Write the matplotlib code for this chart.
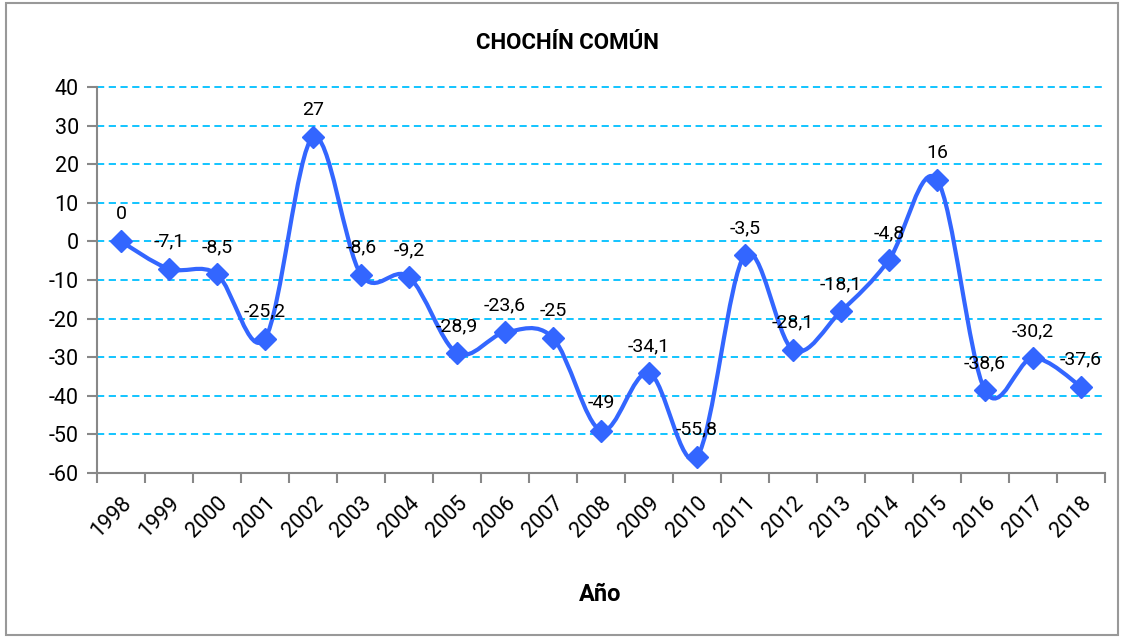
import matplotlib
matplotlib.use("Agg")
from matplotlib import pyplot as plt
from matplotlib.path import Path
from matplotlib.patches import PathPatch, Rectangle

years = [str(y) for y in range(1998, 2019)]
values = [0, -7.1, -8.5, -25.2, 27, -8.6, -9.2, -28.9, -23.6, -25, -49,
          -34.1, -55.8, -3.5, -28.1, -18.1, -4.8, 16, -38.6, -30.2, -37.6]
yticks = [-60, -50, -40, -30, -20, -10, 0, 10, 20, 30, 40]

LINE = "#3366ff"
GRID = "#00bfff"
AXC = "#888888"

plt.rcParams['font.family'] = ['Roboto', 'DejaVu Sans']

fig = plt.figure(figsize=(11.26, 6.39), dpi=100)
fig.patches.append(Rectangle((0.005, 0.006), 0.988, 0.99, transform=fig.transFigure,
                             fill=False, edgecolor="#999999", linewidth=1.5))
ax = fig.add_axes([0.0861, 0.2598, 0.8952, 0.604])

x = list(range(len(values)))

# excel-style smoothed line: cubic bezier with catmull-rom control points
def smooth_path(xs, ys):
    pts = list(zip(xs, ys))
    n = len(pts)
    verts = [pts[0]]
    codes = [Path.MOVETO]
    for i in range(n - 1):
        p0 = pts[i - 1] if i > 0 else pts[i]
        p1 = pts[i]
        p2 = pts[i + 1]
        p3 = pts[i + 2] if i + 2 < n else pts[i + 1]
        c1 = (p1[0] + (p2[0] - p0[0]) / 6, p1[1] + (p2[1] - p0[1]) / 6)
        c2 = (p2[0] - (p3[0] - p1[0]) / 6, p2[1] - (p3[1] - p1[1]) / 6)
        verts += [c1, c2, p2]
        codes += [Path.CURVE4] * 3
    return Path(verts, codes)

ax.add_patch(PathPatch(smooth_path(x, values), facecolor="none",
                       edgecolor=LINE, linewidth=3, zorder=3))
ax.plot(x, values, linestyle="none", marker="D", markersize=11,
        color=LINE, zorder=4)

for xi, v in zip(x, values):
    lab = ("%g" % v).replace(".", ",")
    ax.annotate(lab, (xi, v), xytext=(0, 13), textcoords="offset points",
                ha="center", va="bottom", fontsize=14, color="black")

ax.set_xlim(-0.5, len(values) - 0.5)
ax.set_ylim(-60, 40)
ax.set_yticks(yticks)
ax.set_yticklabels([str(t) for t in yticks], fontsize=15.5)
ax.yaxis.grid(True, color=GRID, linestyle=(0, (4, 2.5)), linewidth=1.3)
for gl in ax.get_ygridlines():
    gl.set_clip_on(False)
ax.set_axisbelow(True)

ax.set_xticks(x)
ax.set_xticklabels(years, rotation=45, ha="right", rotation_mode="anchor", fontsize=15.5)
ax.set_xticks([i - 0.5 for i in range(len(values) + 1)], minor=True)
ax.tick_params(axis="x", which="major", length=0, pad=14)
ax.tick_params(axis="x", which="minor", length=7, color=AXC, width=1.5)
ax.tick_params(axis="y", length=7, color=AXC, width=1.5, pad=6)

for s in ["top", "right"]:
    ax.spines[s].set_visible(False)
for s in ["left", "bottom"]:
    ax.spines[s].set_color(AXC)
    ax.spines[s].set_linewidth(1.5)

fig.text(0.504, 0.932, "CHOCHÍN COMÚN", ha="center", va="center",
         fontsize=16, fontweight="bold")
fig.text(0.533, 0.069, "Año", ha="center", va="center",
         fontsize=17, fontweight="bold")

fig.savefig("out.png", dpi=100)
